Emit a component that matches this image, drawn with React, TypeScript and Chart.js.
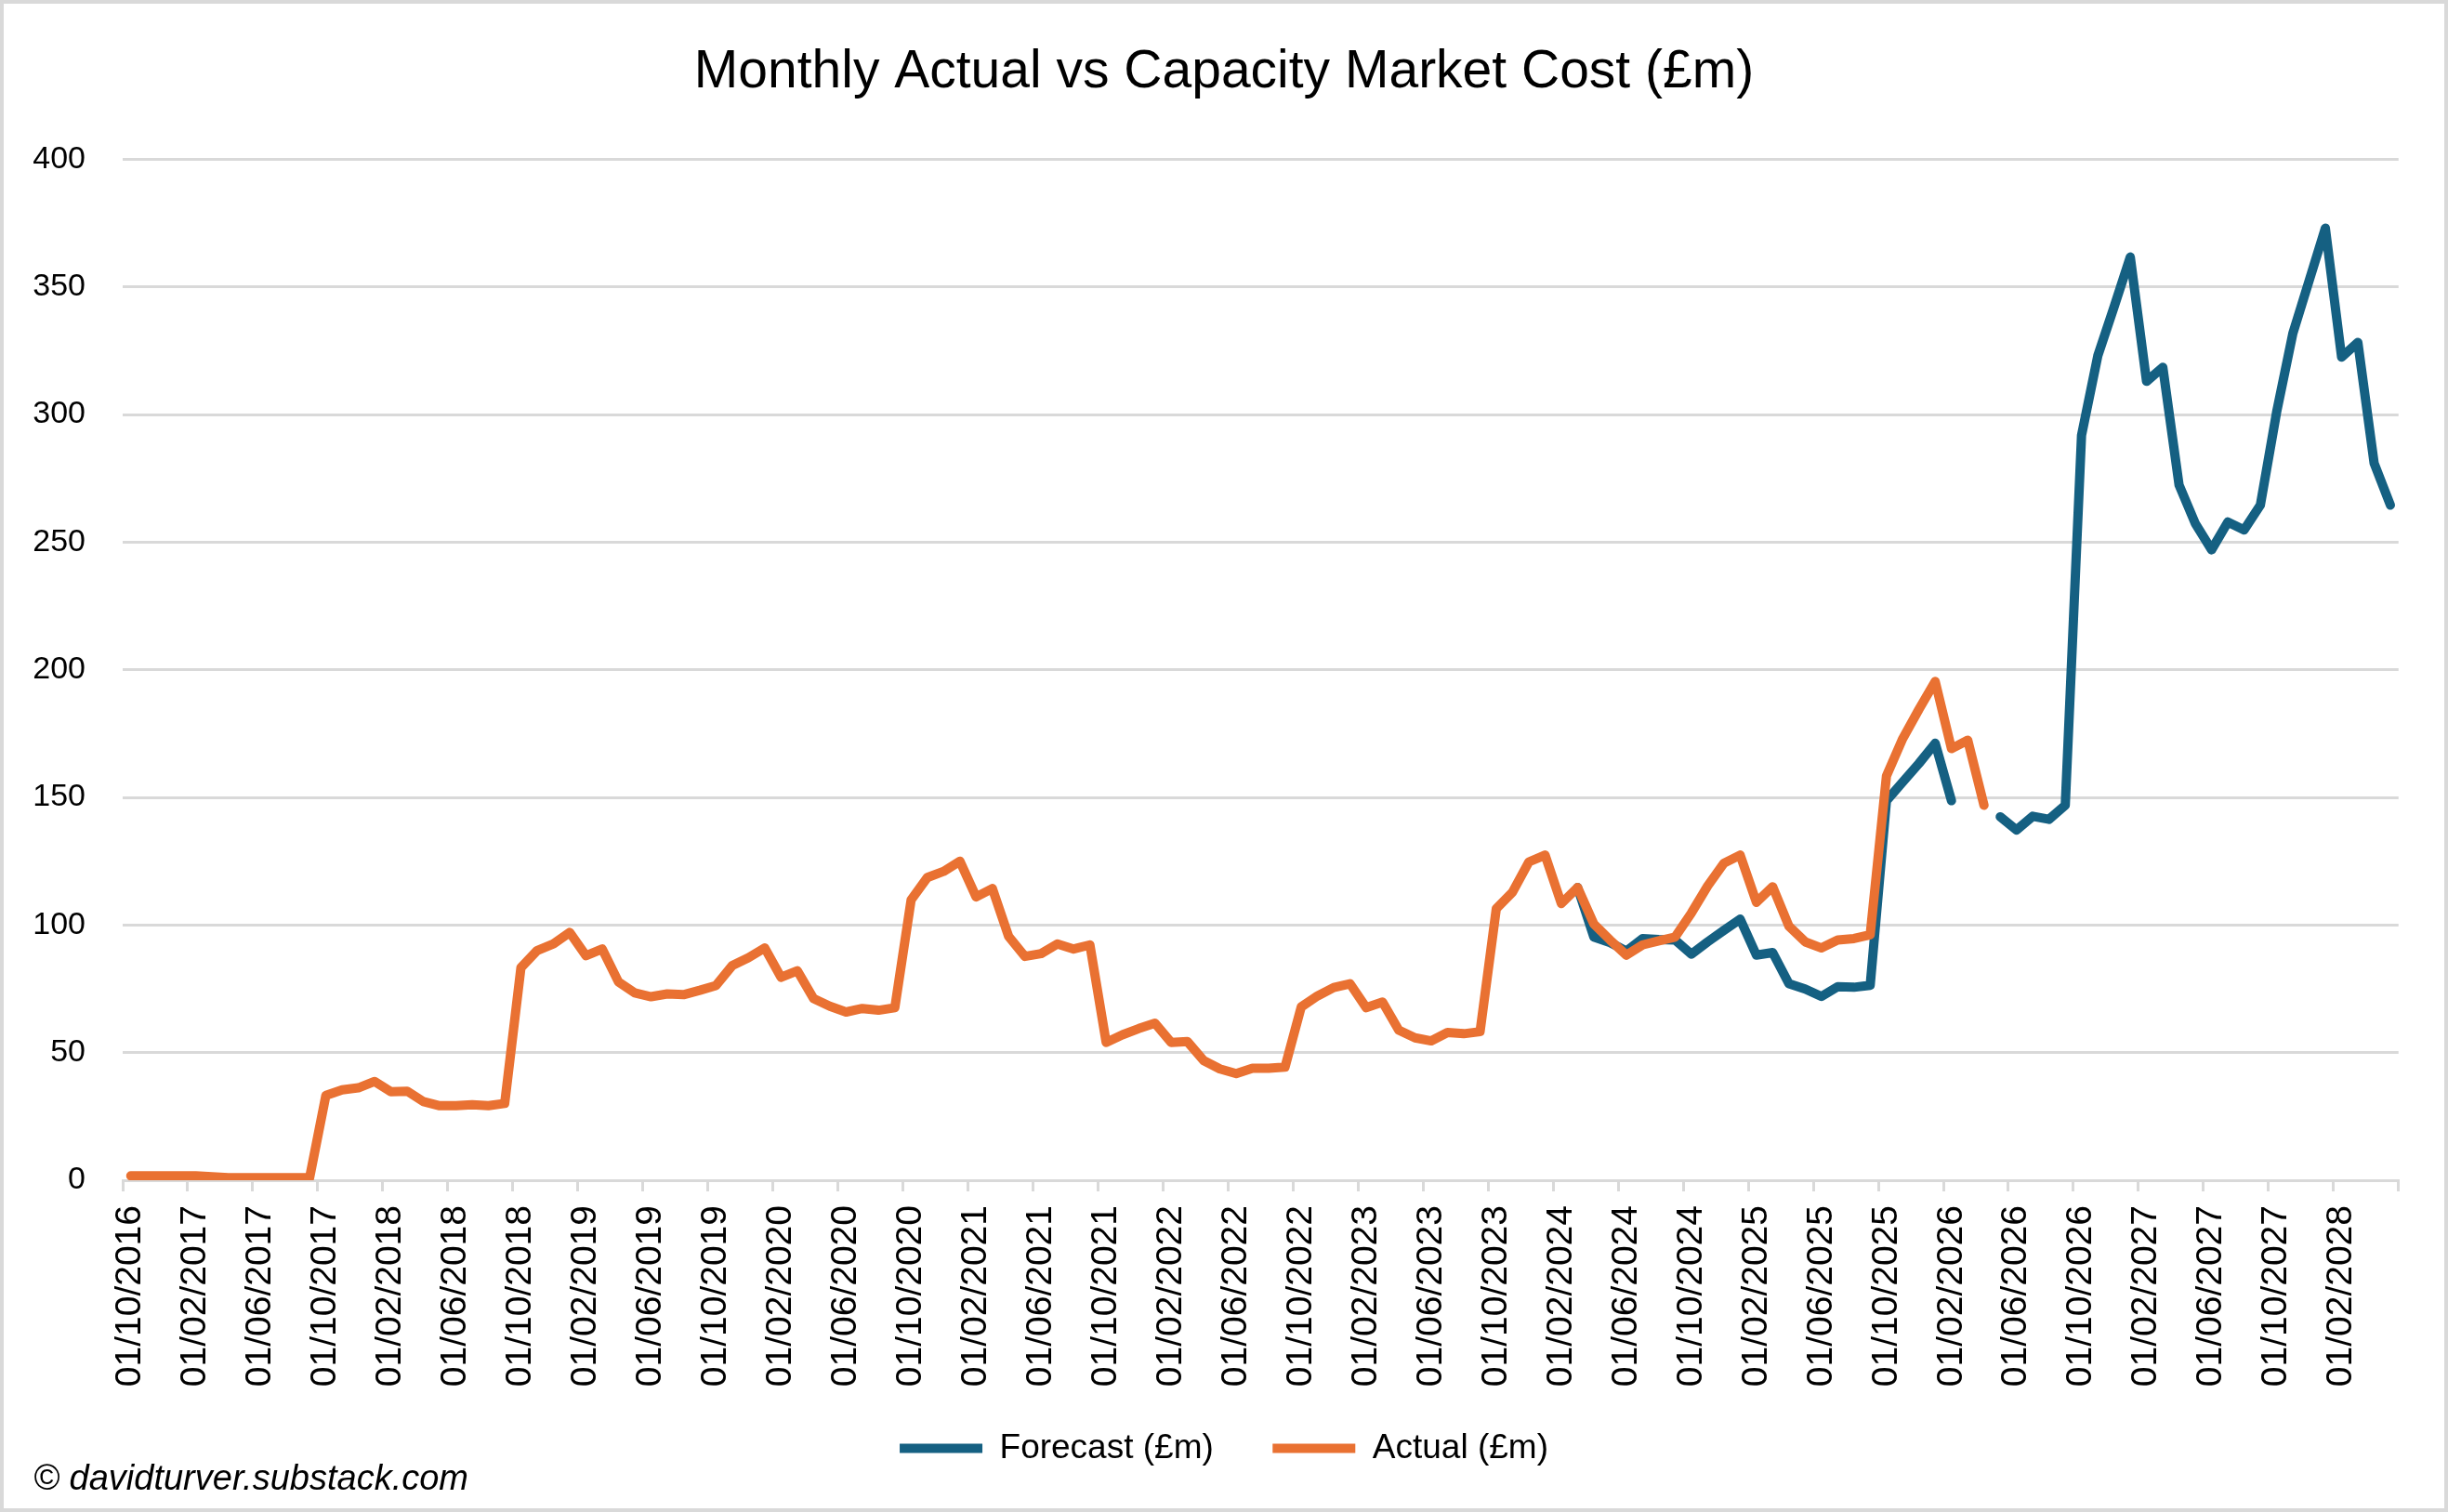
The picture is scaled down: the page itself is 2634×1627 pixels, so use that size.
import { useEffect, useRef } from 'react';
import { Chart, registerables } from 'chart.js';

Chart.register(...registerables);

const W = 2634, H = 1627;
const BLUE = '#156082';
const ORANGE = '#E97132';
const GRID = '#d9d9d9';
const FONT = "'Liberation Sans', Arial, sans-serif";

// one category per month, 01/10/2016 .. 01/05/2028
function monthLabels(year: number, month: number, count: number) {
  const out: string[] = [];
  for (let i = 0; i < count; i++) {
    const m = ((month - 1 + i) % 12) + 1;
    const y = year + Math.floor((month - 1 + i) / 12);
    out.push(`01/${String(m).padStart(2, '0')}/${y}`);
  }
  return out;
}
const MONTHS = monthLabels(2016, 10, 140);

const ACTUAL = [
  1.7, 1.7, 1.7, 1.7, 1.7, 1.4, 1.0, 1.0, 1.0, 1.0, 1.0, 1.0,
  33.2, 35.4, 36.2, 38.7, 34.7, 34.9, 30.8, 29.2, 29.2, 29.6, 29.2, 30.1,
  83.3, 90.0, 92.6, 97.1, 88.0, 90.6, 77.7, 73.4, 71.9, 73.0, 72.7, 74.4,
  76.3, 84.1, 87.2, 91.0, 79.5, 82.1, 71.2, 68.2, 65.9, 67.3, 66.6, 67.6,
  109.8, 118.6, 121.0, 125.0, 111.0, 114.3, 95.5, 87.7, 88.8, 92.6, 90.6, 92.2,
  54.0, 57.0, 59.4, 61.5, 54.0, 54.3, 46.9, 43.6, 41.8, 43.9, 43.9, 44.3,
  67.9, 72.2, 75.5, 77.0, 67.6, 69.8, 58.8, 55.8, 54.6, 57.9, 57.4, 58.2,
  106.4, 112.9, 124.7, 127.4, 108.4, 114.7, 100.4, 94.1, 88.2, 92.2, 93.8, 95.3,
  104.7, 115.3, 124.2, 127.4, 108.9, 115.0, 99.5, 93.4, 91.0, 94.1, 94.7, 96.2,
  158.4, 173.0, 184.5, 195.4, 169.1, 172.4, 146.9,
];

// forecast starts at 01/03/2024 (index 89)
const FORECAST_LEAD = 89;
const FORECAST_A = [
  114.7, 95.3, 93.1, 89.8, 94.7, 94.3, 94.1, 88.6, 93.4, 97.9, 102.3, 88.2,
  89.2, 77.0, 74.9, 72.0, 75.8, 75.6, 76.4, 148.7, 156.0, 163.3, 171.2, 148.7,
];
const FORECAST_GAP = 2;
const FORECAST_B = [
  142.4, 137.2, 142.6, 141.4, 146.9, 291.8, 323.0, 342.1, 361.7, 313.0, 318.5, 272.4,
  257.3, 247.0, 257.9, 254.8, 264.5, 300.9, 331.8, 352.4, 373.0, 322.5, 328.2, 280.9, 264.5,
];
const FORECAST: (number | null)[] = [
  ...Array(FORECAST_LEAD).fill(null), ...FORECAST_A, ...Array(FORECAST_GAP).fill(null), ...FORECAST_B,
];

const Y_MAX = 400;
const Y_STEP = 50;

const framePlugin = {
  id: 'frame',
  beforeDraw(c: Chart) {
    const { ctx } = c;
    ctx.save();
    ctx.fillStyle = '#ffffff';
    ctx.fillRect(0, 0, c.width, c.height);
    ctx.strokeStyle = GRID;
    ctx.lineWidth = 4;
    ctx.strokeRect(2, 2, c.width - 4, c.height - 4);
    ctx.restore();
  },
};

export default function App() {
  const ref = useRef<HTMLCanvasElement>(null);

  useEffect(() => {
    document.body.style.margin = '0';
    if (!ref.current) return;
    const defaultLabels = Chart.defaults.plugins.legend.labels.generateLabels;
    const chart = new Chart(ref.current, {
      type: 'line',
      data: {
        labels: MONTHS,
        datasets: [
          {
            label: 'Forecast (£m)', data: FORECAST, order: 1,
            borderColor: BLUE, backgroundColor: BLUE, borderWidth: 10,
            pointRadius: 0, borderCapStyle: 'round', borderJoinStyle: 'round', spanGaps: false,
          },
          {
            label: 'Actual (£m)', data: ACTUAL, order: 0,
            borderColor: ORANGE, backgroundColor: ORANGE, borderWidth: 10,
            pointRadius: 0, borderCapStyle: 'round', borderJoinStyle: 'round',
          },
        ],
      },
      options: {
        responsive: false,
        animation: false,
        devicePixelRatio: 1,
        layout: { padding: { left: 0, right: 0, top: 0, bottom: 40 } },
        plugins: {
          title: {
            display: true, text: 'Monthly Actual vs Capacity Market Cost (£m)', color: '#000',
            font: { family: FONT, size: 57, weight: 'normal' }, padding: { top: 44, bottom: 59 },
          },
          legend: {
            position: 'bottom',
            labels: {
              usePointStyle: true, pointStyle: 'line', pointStyleWidth: 89, padding: 45, color: '#000',
              font: { family: FONT, size: 37 },
              sort: (a: any, b: any) => a.datasetIndex - b.datasetIndex,
              // en space after the first entry widens the gap between the two entries
              generateLabels: (c: Chart) => defaultLabels(c).map((l: any) =>
                l.datasetIndex === 0 ? { ...l, text: l.text + '\u2002' } : l),
            },
          },
          tooltip: { enabled: false },
        },
        scales: {
          x: {
            offset: true,
            afterFit: (s: any) => { s.height = 225; },
            grid: {
              offset: true, drawOnChartArea: false, drawTicks: true, tickLength: 12, lineWidth: 3,
              color: (ctx: any) => (ctx.index === undefined || ctx.index % 4 === 0 ? GRID : 'rgba(0,0,0,0)'),
            },
            border: { color: GRID, width: 3 },
            ticks: {
              autoSkip: false, minRotation: 90, maxRotation: 90, padding: 15, color: '#000',
              font: { family: FONT, size: 39 },
              callback: (_v: any, i: number) => (i % 4 === 0 ? MONTHS[i] : ''),
            },
          },
          y: {
            min: 0, max: Y_MAX,
            afterFit: (s: any) => { s.width = 132; },
            grid: { color: GRID, lineWidth: 3, drawTicks: false },
            border: { display: false },
            ticks: { stepSize: Y_STEP, padding: 40, color: '#000', font: { family: FONT, size: 34 } },
          },
          // empty right-hand margin so the legend and title stay centred on the whole canvas
          yRight: {
            position: 'right',
            afterFit: (s: any) => { s.width = 52; },
            grid: { display: false },
            border: { display: false },
            ticks: { display: false },
          },
        },
      },
      plugins: [framePlugin],
    });
    return () => chart.destroy();
  }, []);

  return (
    <div style={{ position: 'relative', width: W, height: H }}>
      <canvas ref={ref} width={W} height={H} style={{ display: 'block', width: W, height: H }} />
      <div style={{ position: 'absolute', left: 36, top: 1569, fontFamily: FONT, fontStyle: 'italic', fontSize: 38, lineHeight: '42px', color: '#000', whiteSpace: 'nowrap' }}>
        © davidturver.substack.com
      </div>
    </div>
  );
}
